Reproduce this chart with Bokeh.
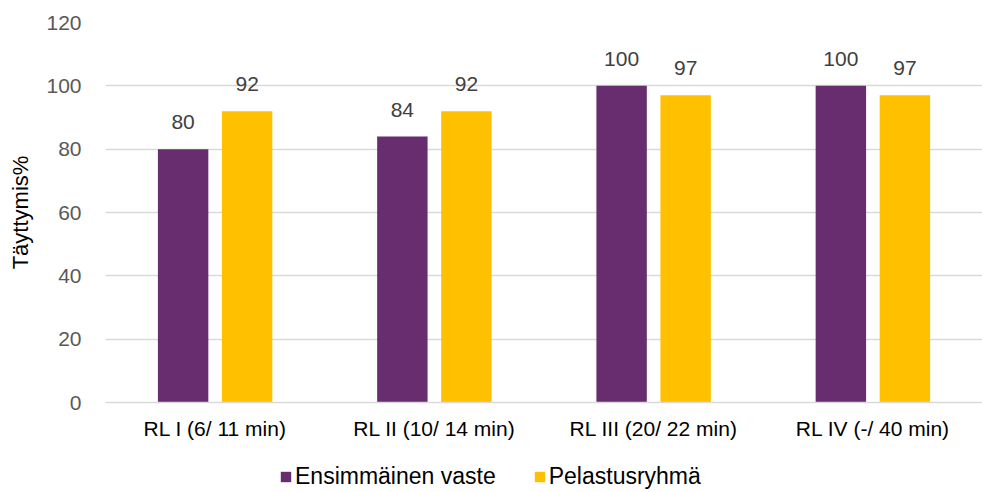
from bokeh.plotting import figure
from bokeh.layouts import column
from bokeh.models import ColumnDataSource, LabelSet, Legend, LegendItem, FactorRange, Range1d
from bokeh.core.properties import value
from bokeh.transform import dodge
from bokeh.embed import file_html
from bokeh.resources import INLINE

categories = ["RL I (6/ 11 min)", "RL II (10/ 14 min)", "RL III (20/ 22 min)", "RL IV (-/ 40 min)"]
ensimmainen = [80, 84, 100, 100]
pelastus = [92, 92, 97, 97]
series_names = ["Ensimmäinen vaste", "Pelastusryhmä"]
y_ticks = [0, 20, 40, 60, 80, 100, 120]

PURPLE = "#672D6F"
YELLOW = "#FFC000"
FONT = "Liberation Sans"

src = ColumnDataSource(dict(cat=categories, a=ensimmainen, b=pelastus,
                            at=[str(v) for v in ensimmainen], bt=[str(v) for v in pelastus]))

p = figure(x_range=FactorRange(*categories), y_range=(0, 120),
           width=982, height=442, frame_width=877, frame_height=380,
           output_backend="svg", toolbar_location=None,
           min_border_left=105, min_border_right=0, min_border_top=22, min_border_bottom=0)
p.outline_line_color = None
p.background_fill_color = "white"
p.border_fill_color = "white"

w = 0.23
off = 0.146
p.vbar(x=dodge("cat", -off, range=p.x_range), top="a", width=w, source=src,
       fill_color=PURPLE, line_color=None)
p.vbar(x=dodge("cat", off, range=p.x_range), top="b", width=w, source=src,
       fill_color=YELLOW, line_color=None)

for col, txt, o in (("a", "at", -off), ("b", "bt", off)):
    p.add_layout(LabelSet(x=dodge("cat", o, range=p.x_range), y=col, text=txt, source=src,
                          y_offset=20, text_align="center", text_baseline="bottom",
                          text_font=value(FONT), text_font_size=value("21px"),
                          text_color="#404040"))

p.yaxis.ticker = y_ticks
p.yaxis.axis_line_color = None
p.yaxis.major_tick_line_color = None
p.yaxis.minor_tick_line_color = None
p.yaxis.major_label_text_font = FONT
p.yaxis.major_label_text_font_size = "21px"
p.yaxis.major_label_text_color = "#595959"
p.yaxis.major_label_standoff = 18
p.yaxis.axis_label = "Täyttymis%"
p.yaxis.axis_label_text_font = FONT
p.yaxis.axis_label_text_font_style = "normal"
p.yaxis.axis_label_text_font_size = "22px"
p.yaxis.axis_label_text_color = "#000000"
p.yaxis.axis_label_standoff = 10

p.xaxis.axis_line_color = "#D9D9D9"
p.xaxis.axis_line_width = 1.5
p.xaxis.major_tick_line_color = None
p.xaxis.minor_tick_line_color = None
p.xaxis.major_tick_out = 0
p.xaxis.major_label_text_font = FONT
p.xaxis.major_label_text_font_size = "21px"
p.xaxis.major_label_text_color = "#000000"
p.xaxis.major_label_standoff = 14

p.xgrid.grid_line_color = None
p.ygrid.grid_line_color = "#D9D9D9"
p.ygrid.grid_line_width = 1.5

# legend strip below the chart (zero-height placeholder bars only feed the legend swatches)
p2 = figure(width=982, height=48, output_backend="svg", toolbar_location=None,
            x_range=Range1d(0, 1), y_range=Range1d(0, 1),
            x_axis_location=None, y_axis_location=None,
            min_border_left=0, min_border_right=0, min_border_top=0, min_border_bottom=0)
p2.outline_line_color = None
p2.grid.visible = False
g1 = p2.vbar(x=[0.5], top=[0], bottom=[0], width=0, fill_color=PURPLE, line_color=None)
g2 = p2.vbar(x=[0.5], top=[0], bottom=[0], width=0, fill_color=YELLOW, line_color=None)

legend = Legend(items=[LegendItem(label=series_names[0], renderers=[g1]),
                       LegendItem(label=series_names[1], renderers=[g2])],
                orientation="horizontal", location=(174, 0),
                label_text_font=FONT, label_text_font_size="23px", label_text_color="#000000",
                glyph_width=13, glyph_height=13, label_standoff=3, spacing=37,
                padding=0, margin=0, border_line_color=None, background_fill_alpha=0)
p2.add_layout(legend, "center")

layout = column(p, p2, spacing=0)
open("out.html", "w").write(file_html(layout, INLINE))
